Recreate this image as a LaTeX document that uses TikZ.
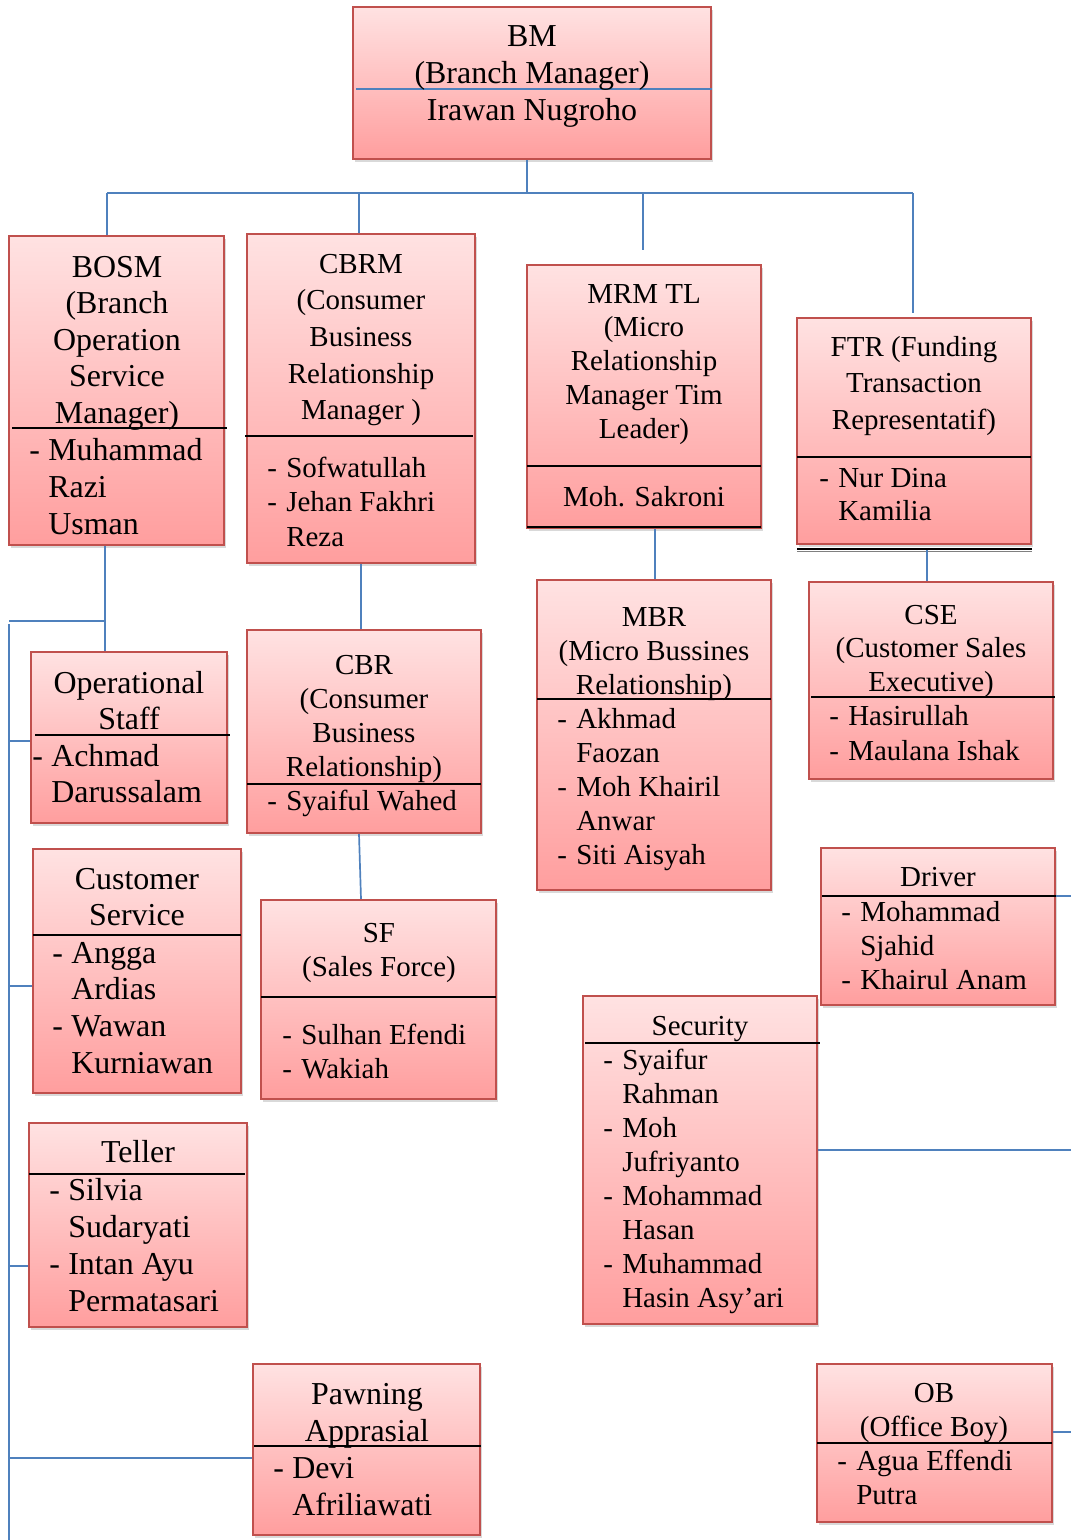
\documentclass[tikz,border=0pt]{standalone}
\usepackage{fontspec}
\setmainfont{Liberation Serif}
\usetikzlibrary{fit,shadows}
\definecolor{boxred}{RGB}{192,80,77}
\definecolor{boxtop}{RGB}{255,226,226}
\definecolor{boxbot}{RGB}{255,158,158}
\definecolor{linkblue}{RGB}{79,129,189}
\newcommand{\hy}{\makebox[0.475cm][l]{-}}
\newcommand{\hind}{\hspace*{0.475cm}}
\begin{document}
\begin{tikzpicture}[x=0.025cm,y=-0.025cm,
  orgbox/.style={draw=boxred,line width=1.5pt,top color=boxtop,bottom color=boxbot,inner sep=0pt,
    drop shadow={shadow xshift=0.06cm,shadow yshift=-0.08cm,opacity=0.3}},
  divider/.style={line width=1.1pt,black},
  link/.style={line width=1.2pt,linkblue},
  big/.style={font=\fontsize{22.7}{26}\selectfont,inner sep=0pt},
  small/.style={font=\fontsize{20.6}{24}\selectfont,inner sep=0pt}]
\useasboundingbox (0,0) rectangle (1071,1540);

\node[orgbox,fit={(353,7) (711,159)}] (bm) {};
\node[orgbox,fit={(9,236) (224,545)}] (bosm) {};
\node[orgbox,fit={(247,234) (475,563)}] (cbrm) {};
\node[orgbox,fit={(527,265) (761,528)}] (mrm) {};
\node[orgbox,fit={(797,318) (1031,544)}] (ftr) {};
\node[orgbox,fit={(31,652) (227,823)}] (opstaff) {};
\node[orgbox,fit={(33,849) (241,1093)}] (cs) {};
\node[orgbox,fit={(29,1123) (247,1327)}] (teller) {};
\node[orgbox,fit={(253,1364) (480,1535)}] (pawn) {};
\node[orgbox,fit={(247,630) (481,833)}] (cbr) {};
\node[orgbox,fit={(261,900) (496,1099)}] (sf) {};
\node[orgbox,fit={(537,580) (771,890)}] (mbr) {};
\node[orgbox,fit={(809,582) (1053,779)}] (cse) {};
\node[orgbox,fit={(821,848) (1055,1005)}] (driver) {};
\node[orgbox,fit={(583,996) (817,1324)}] (security) {};
\node[orgbox,fit={(817,1364) (1052,1522)}] (ob) {};

\draw[link] (356,89) -- (712,89);
\draw[divider] (12,428) -- (227,428);
\draw[divider] (245,436) -- (473,436);
\draw[divider] (527,466) -- (761,466);
\draw[divider,line width=1.8pt] (527,527) -- (761,527);
\draw[divider] (797,457) -- (1031,457);
\draw[gray,line width=0.8pt] (797,551.5) -- (1032,551.5);
\draw[divider,line width=1.8pt] (797,549) -- (1032,549);
\draw[divider] (35,735) -- (230,735);
\draw[divider] (33,935) -- (241,935);
\draw[divider] (29,1174) -- (245,1174);
\draw[divider] (254,1446) -- (481,1446);
\draw[divider] (247,784) -- (481,784);
\draw[divider] (261,997) -- (496,997);
\draw[divider] (537,699) -- (771,699);
\draw[divider] (811,697) -- (1055,697);
\draw[divider] (822,896) -- (1057,896);
\draw[divider] (585,1043) -- (820,1043);
\draw[divider] (817,1443) -- (1052,1443);

\foreach \t [count=\i] in {BM,{(Branch Manager)},Irawan Nugroho}
  \node[big,anchor=base] (bm-\i) at (532,{46+(\i-1)*37}) {\t};
\foreach \t [count=\i] in {BOSM,{(Branch},Operation,Service,Manager)}
  \node[big,anchor=base] (bosm-\i) at (117,{277+(\i-1)*36.6}) {\t};
\foreach \t [count=\i] in {\hy Muhammad,\hind Razi,\hind Usman}
  \node[big,anchor=base west] (bosm-m\i) at (29,{460+(\i-1)*37}) {\t};
\foreach \t [count=\i] in {CBRM,{(Consumer},Business,Relationship,Manager )}
  \node[small,anchor=base] (cbrm-\i) at (361,{273+(\i-1)*36.7}) {\t};
\foreach \t [count=\i] in {\hy Sofwatullah,\hy Jehan Fakhri,\hind Reza}
  \node[small,anchor=base west] (cbrm-m\i) at (267,{477+(\i-1)*34.5}) {\t};
\foreach \t [count=\i] in {MRM TL,{(Micro},Relationship,Manager Tim,Leader)}
  \node[small,anchor=base] (mrm-\i) at (644,{303+(\i-1)*33.75}) {\t};
\node[small,anchor=base] (mrm-m1) at (644,506) {Moh. Sakroni};
\foreach \t [count=\i] in {FTR (Funding,Transaction,Representatif)}
  \node[small,anchor=base] (ftr-\i) at (914,{356+(\i-1)*36.5}) {\t};
\foreach \t [count=\i] in {\hy Nur Dina,\hind Kamilia}
  \node[small,anchor=base west] (ftr-m\i) at (819,{487+(\i-1)*33}) {\t};
\foreach \t [count=\i] in {Operational,Staff}
  \node[big,anchor=base] (opstaff-\i) at (129,{693+(\i-1)*36.5}) {\t};
\foreach \t [count=\i] in {\hy Achmad,\hind Darussalam}
  \node[big,anchor=base west] (opstaff-m\i) at (32,{766+(\i-1)*36.5}) {\t};
\foreach \t [count=\i] in {Customer,Service}
  \node[big,anchor=base] (cs-\i) at (137,{889+(\i-1)*36}) {\t};
\foreach \t [count=\i] in {\hy Angga,\hind Ardias,\hy Wawan,\hind Kurniawan}
  \node[big,anchor=base west] (cs-m\i) at (52,{963+(\i-1)*36.7}) {\t};
\node[big,anchor=base] (teller-1) at (138,1162) {Teller};
\foreach \t [count=\i] in {\hy Silvia,\hind Sudaryati,\hy Intan Ayu,\hind Permatasari}
  \node[big,anchor=base west] (teller-m\i) at (49,{1200+(\i-1)*37}) {\t};
\foreach \t [count=\i] in {Pawning,Apprasial}
  \node[big,anchor=base] (pawn-\i) at (367,{1404+(\i-1)*37}) {\t};
\foreach \t [count=\i] in {\hy Devi,\hind Afriliawati}
  \node[big,anchor=base west] (pawn-m\i) at (273,{1478+(\i-1)*37}) {\t};
\foreach \t [count=\i] in {CBR,{(Consumer},Business,Relationship)}
  \node[small,anchor=base] (cbr-\i) at (364,{674+(\i-1)*34}) {\t};
\node[small,anchor=base west] (cbr-m1) at (267,810) {\hy Syaiful Wahed};
\foreach \t [count=\i] in {SF,{(Sales Force)}}
  \node[small,anchor=base] (sf-\i) at (379,{942+(\i-1)*34}) {\t};
\foreach \t [count=\i] in {\hy Sulhan Efendi,\hy Wakiah}
  \node[small,anchor=base west] (sf-m\i) at (282,{1044+(\i-1)*34}) {\t};
\foreach \t [count=\i] in {MBR,{(Micro Bussines},Relationship)}
  \node[small,anchor=base] (mbr-\i) at (654,{626+(\i-1)*34}) {\t};
\foreach \t [count=\i] in {\hy Akhmad,\hind Faozan,\hy Moh Khairil,\hind Anwar,\hy Siti Aisyah}
  \node[small,anchor=base west] (mbr-m\i) at (557,{728+(\i-1)*34}) {\t};
\foreach \t [count=\i] in {CSE,{(Customer Sales},Executive)}
  \node[small,anchor=base] (cse-\i) at (931,{624+(\i-1)*33.5}) {\t};
\foreach \t [count=\i] in {\hy Hasirullah,\hy Maulana Ishak}
  \node[small,anchor=base west] (cse-m\i) at (829,{725+(\i-1)*35}) {\t};
\node[small,anchor=base] (driver-1) at (938,886) {Driver};
\foreach \t [count=\i] in {\hy Mohammad,\hind Sjahid,\hy Khairul Anam}
  \node[small,anchor=base west] (driver-m\i) at (841,{921+(\i-1)*34}) {\t};
\node[small,anchor=base] (security-1) at (700,1035) {Security};
\foreach \t [count=\i] in {\hy Syaifur,\hind Rahman,\hy Moh,\hind Jufriyanto,\hy Mohammad,\hind Hasan,\hy Muhammad,\hind Hasin Asy’ari}
  \node[small,anchor=base west] (security-m\i) at (603,{1069+(\i-1)*34.1}) {\t};
\foreach \t [count=\i] in {OB,{(Office Boy)}}
  \node[small,anchor=base] (ob-\i) at (934,{1402+(\i-1)*34}) {\t};
\foreach \t [count=\i] in {\hy Agua Effendi,\hind Putra}
  \node[small,anchor=base west] (ob-m\i) at (837,{1470+(\i-1)*34}) {\t};

\coordinate (bus-w) at (107,193);
\coordinate (bus-m) at (527,193);
\coordinate (bus-c) at (359,193);
\coordinate (bus-r) at (643,193);
\coordinate (bus-e) at (913,193);
\coordinate (mrm-end) at (643,250);
\coordinate (ftr-end) at (913,313);
\draw[link] (bus-m |- bm.south) -- (bus-m);
\draw[link] (bus-w) -- (bus-e);
\draw[link] (bus-w) -- (bus-w |- bosm.north);
\draw[link] (bus-c) -- (bus-c |- cbrm.north);
\draw[link] (bus-r) -- (mrm-end);
\draw[link] (bus-e) -- (ftr-end);

\coordinate (ops-j) at (105,621);
\coordinate (spine-t) at (9,621);
\coordinate (spine-s) at (9,624);
\coordinate (spine-b) at (9,1540);
\draw[link] (ops-j |- bosm.south) -- (ops-j |- opstaff.north);
\draw[link] (spine-t) -- (ops-j);
\draw[link] (spine-s) -- (spine-b);
\draw[link] (spine-s |- 0,741) -- (opstaff.west |- 0,741);
\draw[link] (spine-s |- 0,986) -- (cs.west |- 0,986);
\draw[link] (spine-s |- 0,1266) -- (teller.west |- 0,1266);
\draw[link] (spine-s |- 0,1458) -- (pawn.west |- 0,1458);

\draw[link] (361,0 |- cbrm.south) -- (361,0 |- cbr.north);
\draw[link] (359,0 |- cbr.south) -- (361,0 |- sf.north);
\draw[link] (655,0 |- mrm.south) -- (655,0 |- mbr.north);
\coordinate (ftr-base) at (927,550);
\draw[link] (ftr-base) -- (927,0 |- cse.north);

\coordinate (edge-d) at (1071,896);
\coordinate (edge-s) at (1071,1150);
\coordinate (edge-o) at (1071,1432);
\draw[link] (driver.east |- edge-d) -- (edge-d);
\draw[link] (security.east |- edge-s) -- (edge-s);
\draw[link] (ob.east |- edge-o) -- (edge-o);
\end{tikzpicture}
\end{document}
